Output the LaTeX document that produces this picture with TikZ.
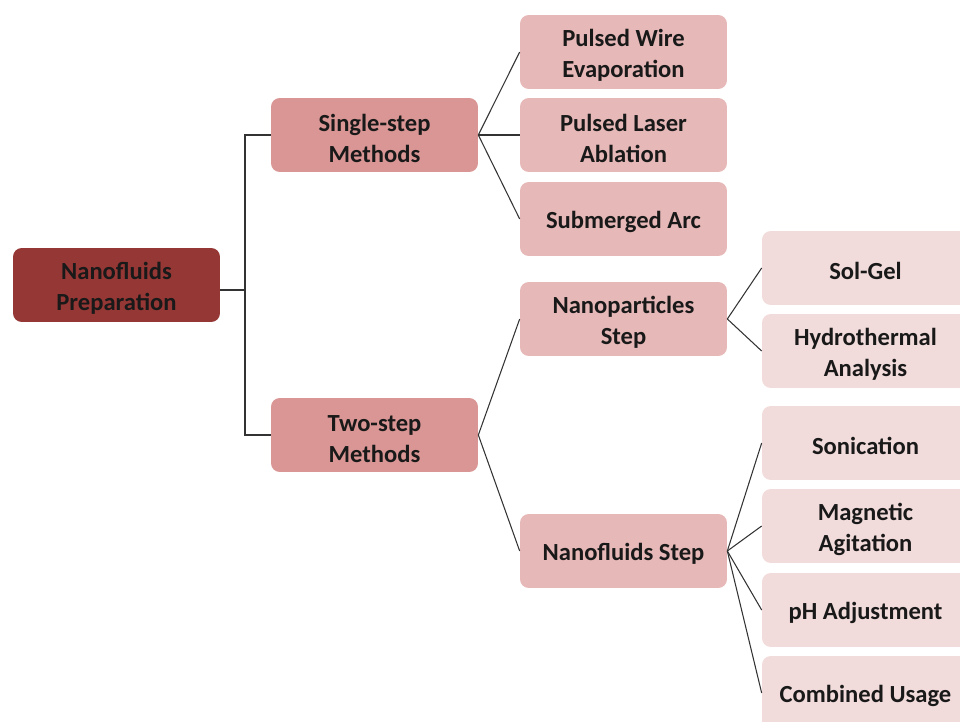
\documentclass[tikz,border=0pt]{standalone}
\usepackage{fontspec}
\setmainfont{Carlito}
\usepackage{tikz}

\definecolor{rootred}{HTML}{953735}
\definecolor{midred}{HTML}{D99694}
\definecolor{lightred}{HTML}{E6B8B7}
\definecolor{palered}{HTML}{F2DCDB}

\begin{document}
\begin{tikzpicture}[x=0.02cm, y=-0.02cm,
        box/.style={rectangle, rounded corners=5pt, align=center,
            minimum width=4.14cm, minimum height=1.48cm, inner sep=2pt,
            font=\fontsize{14}{17.6}\selectfont\bfseries, text=black!90,
            execute at begin node={\rule{0pt}{13pt}}},
        twoline/.style={execute at begin node={\rule{0pt}{31pt}}},
        rootbox/.style={box, fill=rootred},
        methodbox/.style={box, fill=midred},
        stepbox/.style={box, fill=lightred},
        leafbox/.style={box, fill=palered},
        link/.style={draw=black!80, line width=0.6pt}]
        % Keep the page at the reference size
        \clip (0,0) rectangle (960,722);

        % Root
        \node[rootbox, twoline] (prep) at (116.5,285) {Nanofluids\\Preparation};

        % Methods
        \node[methodbox, twoline] (single) at (374.5,135) {Single-step\\Methods};
        \node[methodbox, twoline] (two) at (374.5,435) {Two-step\\Methods};

        % Single-step methods
        \node[stepbox, twoline] (wire) at (623.5,52) {Pulsed Wire\\Evaporation};
        \node[stepbox, twoline] (laser) at (623.5,135) {Pulsed Laser\\Ablation};
        \node[stepbox] (arc) at (623.5,219) {Submerged Arc};

        % Two-step methods
        \node[stepbox, twoline] (particles) at (623.5,319) {Nanoparticles\\Step};
        \node[stepbox] (fluids) at (623.5,551) {Nanofluids Step};

        % Nanoparticles step
        \node[leafbox] (solgel) at (865.5,268) {Sol-Gel};
        \node[leafbox, twoline] (hydro) at (865.5,351) {Hydrothermal\\Analysis};

        % Nanofluids step
        \node[leafbox] (sonic) at (865.5,443) {Sonication};
        \node[leafbox, twoline] (magnet) at (865.5,526) {Magnetic\\Agitation};
        \node[leafbox] (ph) at (865.5,610) {pH Adjustment};
        \node[leafbox] (combined) at (865.5,693) {Combined Usage};

        % Elbow from the root
        \coordinate (fork) at (245,290);
        \draw[link] (prep.east |- fork) -- (fork);
        \draw[link] (single.west) -| (fork) |- (two.west);

        % Fans
        \foreach \child in {wire, laser, arc}
            \draw[link] (single.east) -- (\child.west);
        \foreach \child in {particles, fluids}
            \draw[link] (two.east) -- (\child.west);
        \foreach \child in {solgel, hydro}
            \draw[link] (particles.east) -- (\child.west);
        \foreach \child in {sonic, magnet, ph, combined}
            \draw[link] (fluids.east) -- (\child.west);

    \end{tikzpicture}
\end{document}
